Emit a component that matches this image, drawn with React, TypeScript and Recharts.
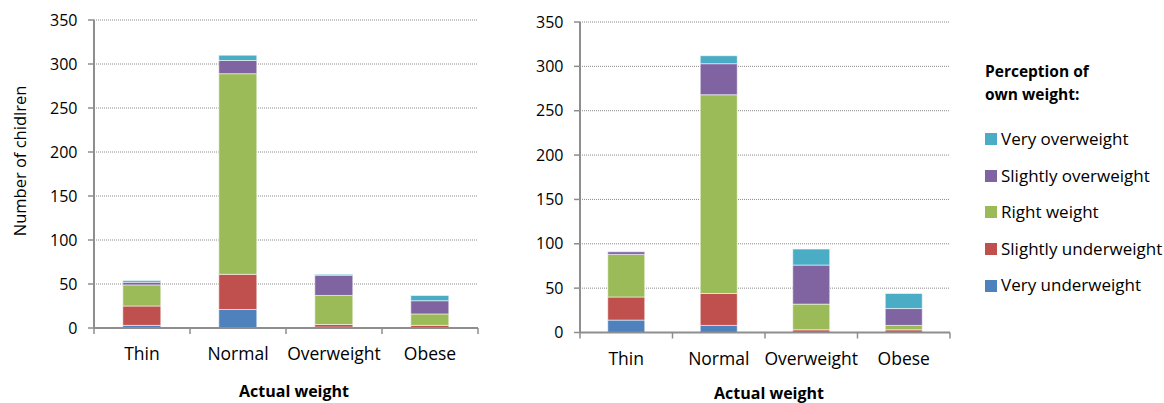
import React from 'react';
import { BarChart, Bar, XAxis, YAxis, CartesianGrid, Legend, Label } from 'recharts';

const CATEGORIES = ['Thin', 'Normal', 'Overweight', 'Obese'];
const SERIES_NAMES = ['Very underweight', 'Slightly underweight', 'Right weight', 'Slightly overweight', 'Very overweight'];
const SERIES_KEYS = ['vu', 'su', 'rw', 'so', 'vo'];
const SERIES_COLORS = ['#4F81BD', '#C0504D', '#9BBB59', '#8064A2', '#4BACC6'];

const BOYS_VERY_UNDER = [3, 21, 1, 0];
const BOYS_SLIGHTLY_UNDER = [22, 40, 3, 3];
const BOYS_RIGHT = [24, 228, 33, 13];
const BOYS_SLIGHTLY_OVER = [3, 15, 23, 15];
const BOYS_VERY_OVER = [2, 6, 1, 6];

const GIRLS_VERY_UNDER = [14, 8, 0, 0];
const GIRLS_SLIGHTLY_UNDER = [26, 36, 3, 3];
const GIRLS_RIGHT = [48, 224, 29, 5];
const GIRLS_SLIGHTLY_OVER = [3, 35, 44, 19];
const GIRLS_VERY_OVER = [0, 9, 18, 17];

const Y_TICKS = [0, 50, 100, 150, 200, 250, 300, 350];
const Y_LABEL = 'Number of chidlren';
const X_LABEL = 'Actual weight';
const LEGEND_TITLE = ['Perception of', 'own weight:'];

const buildRows = (cols: number[][]) =>
  CATEGORIES.map((name, i) => {
    const row: any = { name };
    SERIES_KEYS.forEach((k, s) => {
      row[k] = cols[s][i];
    });
    return row;
  });

const BOYS_DATA = buildRows([BOYS_VERY_UNDER, BOYS_SLIGHTLY_UNDER, BOYS_RIGHT, BOYS_SLIGHTLY_OVER, BOYS_VERY_OVER]);
const GIRLS_DATA = buildRows([GIRLS_VERY_UNDER, GIRLS_SLIGHTLY_UNDER, GIRLS_RIGHT, GIRLS_SLIGHTLY_OVER, GIRLS_VERY_OVER]);

const FONT = '"Open Sans", "DejaVu Sans", sans-serif';
const AXIS_COLOR = '#8e8e8e';
const GRID_COLOR = '#8a8a8a';
const TICK_SIZE = 6;
const X_TICK_MARGIN = 13.4;

const makeCatTick = (plotWidth: number) => (props: any) => {
  const { x, y, payload, index } = props;
  const n = CATEGORIES.length;
  const band = plotWidth / n;
  const axisY = y - TICK_SIZE - X_TICK_MARGIN;
  const left = x - band / 2;
  const right = x + band / 2;
  return (
    <g>
      <line x1={left} x2={left} y1={axisY} y2={axisY + TICK_SIZE} stroke={AXIS_COLOR} strokeWidth={1.5} />
      {index === n - 1 && (
        <line x1={right} x2={right} y1={axisY} y2={axisY + TICK_SIZE} stroke={AXIS_COLOR} strokeWidth={1.5} />
      )}
      <text x={x} y={y} dy="0.72em" textAnchor="middle" fill="#000" fontSize={17.5} fontFamily={FONT}>
        {payload.value}
      </text>
    </g>
  );
};

const titleContent = (text: string, dx: number, dy: number) => (props: any) => {
  const vb = props.viewBox || {};
  return (
    <text x={vb.x + dx} y={vb.y + dy} fill="#000" fontSize={21} fontWeight="bold" fontFamily={FONT}>
      {text}
    </text>
  );
};

const xTitleContent = (cx: number, baselineFromAxis: number) => (props: any) => {
  const vb = props.viewBox || {};
  return (
    <text x={vb.x + cx} y={vb.y + baselineFromAxis} textAnchor="middle" fill="#000" fontSize={16} fontWeight="bold" fontFamily={FONT}>
      {X_LABEL}
    </text>
  );
};

const yTitleContent = (props: any) => {
  const vb = props.viewBox || {};
  const x = vb.x + 26;
  const y = vb.y + 141;
  return (
    <text x={x} y={y} transform={`rotate(-90, ${x}, ${y})`} textAnchor="middle" fill="#000" fontSize={16.5} fontFamily={FONT}>
      {Y_LABEL}
    </text>
  );
};

const LegendContent = (props: any) => {
  const payload: any[] = props.payload || [];
  const items = SERIES_NAMES.map((name, i) => {
    const found = payload.find((p: any) => p.value === name);
    return { value: name, color: found ? found.color : SERIES_COLORS[i] };
  }).reverse();
  return (
    <div style={{ fontFamily: FONT, color: '#000', textAlign: 'left' }}>
      <div style={{ fontWeight: 'bold', fontSize: 15.5, lineHeight: '23px' }}>
        {LEGEND_TITLE.map((t) => (
          <div key={t}>{t}</div>
        ))}
      </div>
      <div style={{ marginTop: 15 }}>
        {items.map((it: any) => (
          <div key={it.value} style={{ display: 'flex', alignItems: 'center', height: 36.6 }}>
            <span style={{ display: 'inline-block', width: 12, height: 12, background: it.color, marginRight: 4 }} />
            <span style={{ fontSize: 17, lineHeight: '36.6px', whiteSpace: 'nowrap' }}>{it.value}</span>
          </div>
        ))}
      </div>
    </div>
  );
};

type PanelProps = {
  data: any[];
  width: number;
  margin: { top: number; right: number; left: number; bottom: number };
  yAxisWidth: number;
  xAxisHeight: number;
  title: string;
  titleDx: number;
  xTitleCx: number;
  xTitleBaseline: number;
  showYLabel: boolean;
  showLegend: boolean;
};

const Panel = (p: PanelProps) => {
  const plotWidth = p.width - p.margin.left - p.margin.right - p.yAxisWidth;
  return (
    <BarChart width={p.width} height={403} data={p.data} margin={p.margin} barCategoryGap="30%">
      <CartesianGrid vertical={false} stroke={GRID_COLOR} strokeDasharray="1 1" strokeWidth={1} />
      <XAxis
        dataKey="name"
        height={p.xAxisHeight}
        axisLine={{ stroke: AXIS_COLOR, strokeWidth: 2 }}
        tickLine={false}
        tickSize={TICK_SIZE}
        tickMargin={X_TICK_MARGIN}
        interval={0}
        tick={makeCatTick(plotWidth)}
      >
        <Label content={xTitleContent(p.xTitleCx, p.xTitleBaseline)} />
      </XAxis>
      <XAxis xAxisId="top" orientation="top" height={0} tick={false} tickLine={false} axisLine={{ stroke: AXIS_COLOR, strokeWidth: 2 }}>
        <Label content={titleContent(p.title, p.titleDx, 31)} />
      </XAxis>
      <YAxis
        width={p.yAxisWidth}
        domain={[0, 350]}
        ticks={Y_TICKS}
        interval={0}
        axisLine={{ stroke: AXIS_COLOR, strokeWidth: 2 }}
        tickLine={{ stroke: AXIS_COLOR, strokeWidth: 1.5 }}
        tickSize={TICK_SIZE}
        tickMargin={10.5}
        tick={{ fill: '#000', fontSize: 16, fontFamily: FONT }}
      >
        {p.showYLabel && <Label content={yTitleContent} />}
      </YAxis>
      <YAxis yAxisId="right" orientation="right" width={0} tick={false} tickLine={false} axisLine={{ stroke: AXIS_COLOR, strokeWidth: 2 }} />
      {p.showLegend && (
        <Legend
          layout="vertical"
          align="center"
          verticalAlign="middle"
          content={LegendContent}
          wrapperStyle={{ left: 485, top: 60, width: 180, margin: 0 }}
        />
      )}
      {SERIES_KEYS.map((k, i) => (
        <Bar
          key={k}
          dataKey={k}
          name={SERIES_NAMES[i]}
          stackId="a"
          fill={SERIES_COLORS[i]}
          stroke="#ffffff"
          strokeOpacity={0.55}
          strokeWidth={1}
          isAnimationActive={false}
        />
      ))}
    </BarChart>
  );
};

export default function App() {
  return (
    <div style={{ position: 'absolute', left: 0, top: 0, width: 1164, height: 403, background: '#fff', fontFamily: FONT }}>
      <div style={{ position: 'absolute', left: 0, top: 0 }}>
        <Panel
          data={BOYS_DATA}
          width={490}
          margin={{ top: 20, right: 12, left: 0, bottom: 0 }}
          yAxisWidth={94}
          xAxisHeight={75}
          title="Boys"
          titleDx={251}
          xTitleCx={200}
          xTitleBaseline={69}
          showYLabel={true}
          showLegend={false}
        />
      </div>
      <div style={{ position: 'absolute', left: 500, top: 0 }}>
        <Panel
          data={GIRLS_DATA}
          width={664}
          margin={{ top: 22, right: 214, left: 0, bottom: 0 }}
          yAxisWidth={80}
          xAxisHeight={70.5}
          title="Girls"
          titleDx={258}
          xTitleCx={189}
          xTitleBaseline={66.5}
          showYLabel={false}
          showLegend={true}
        />
      </div>
    </div>
  );
}
